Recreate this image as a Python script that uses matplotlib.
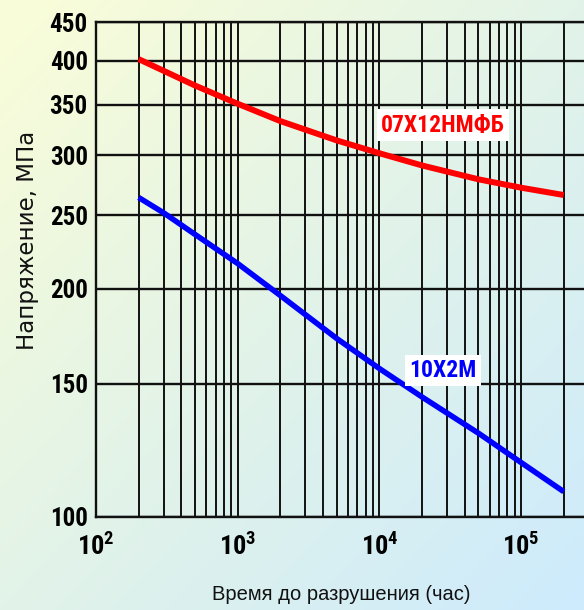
import numpy as np
import matplotlib
matplotlib.use("Agg")
import matplotlib.pyplot as plt
from matplotlib.ticker import FixedLocator, LogLocator, FuncFormatter, NullFormatter, NullLocator
from matplotlib.colors import LinearSegmentedColormap

# time to rupture, h
hours = [200, 300, 500, 1e3, 2e3, 5e3, 1e4, 2e4, 5e4, 1e5, 2e5]
# stress, MPa
stress_07 = [402, 388, 371, 351, 333, 314, 302, 291, 279, 272, 266]
stress_10 = [264, 252, 236, 216, 196, 172, 157, 144, 129, 118, 108]

y_ticks = [100, 150, 200, 250, 300, 350, 400, 450]
x_ticks = [1e2, 1e3, 1e4, 1e5]

label_07 = "07Х12НМФБ"
label_10 = "10Х2М"
y_title = "Напряжение, МПа"
x_title = "Время до разрушения (час)"

narrow = ["Roboto Condensed", "DejaVu Sans"]
plt.rcParams["mathtext.fontset"] = "custom"
plt.rcParams["mathtext.rm"] = "Roboto Condensed:bold"
plt.rcParams["mathtext.it"] = "Roboto Condensed:bold"
plt.rcParams["mathtext.bf"] = "Roboto Condensed:bold"

fig = plt.figure(figsize=(5.84, 6.10), dpi=100)

# background gradient
bg = fig.add_axes([0, 0, 1, 1], zorder=-10)
gx, gy = np.meshgrid(np.linspace(0, 1, 200), np.linspace(0, 1, 200))
grad = (gx + gy) / 2
cmap = LinearSegmentedColormap.from_list("bg", ["#FAFDD8", "#E2F3E8", "#CDEBFD"])
bg.imshow(grad, cmap=cmap, aspect="auto", extent=[0, 1, 0, 1], origin="upper")
bg.axis("off")

ax = fig.add_axes([96 / 584, 93 / 610, 1 - 96 / 584, 495 / 610])
ax.patch.set_alpha(0)
ax.set_xscale("log")
ax.set_yscale("log")
ax.set_xlim(100, 10 ** (2 + 488 / 141.7))
ax.set_ylim(100, 450)

ax.plot(hours, stress_07, color="#FF0000", lw=4.3, solid_capstyle="butt", zorder=3)
ax.plot(hours, stress_10, color="#0000FF", lw=4.0, solid_capstyle="butt", zorder=3)

ax.xaxis.set_major_locator(FixedLocator(x_ticks))
ax.xaxis.set_minor_locator(LogLocator(base=10, subs=np.arange(2, 10)))
ax.xaxis.set_major_formatter(FuncFormatter(lambda v, p: r"$10^{%d}$" % round(np.log10(v))))
ax.xaxis.set_minor_formatter(NullFormatter())
ax.yaxis.set_major_locator(FixedLocator(y_ticks))
ax.yaxis.set_minor_locator(NullLocator())
ax.yaxis.set_major_formatter(FuncFormatter(lambda v, p: "%d" % v))

ax.grid(True, which="major", axis="y", color="#111111", lw=1.7)
ax.grid(True, which="both", axis="x", color="#111111", lw=1.4)
ax.tick_params(which="both", length=0)
ax.tick_params(axis="y", pad=6)
ax.tick_params(axis="x", pad=12, labelsize=19)
for lab in ax.get_yticklabels():
    lab.set_fontfamily(narrow)
    lab.set_fontweight("bold")
    lab.set_fontsize(18)

for side in ["left", "bottom", "top"]:
    ax.spines[side].set_color("#111111")
    ax.spines[side].set_linewidth(1.7)
ax.spines["right"].set_visible(False)

ax.text(2.81e4, 329, label_07, color="#FF0000", fontsize=17, fontweight="bold",
        family=narrow, ha="center", va="center", zorder=4,
        bbox=dict(facecolor="white", edgecolor="none", pad=3))
ax.text(2.81e4, 156, label_10, color="#0000FF", fontsize=17, fontweight="bold",
        family=narrow, ha="center", va="center", zorder=4,
        bbox=dict(facecolor="white", edgecolor="none", pad=3))

fig.text(28 / 584, 1 - 240 / 610, y_title, rotation=90, ha="center", va="center",
         fontsize=16.5, family=["DejaVu Sans"], color="#111111")
fig.text(341 / 584, 1 - 594 / 610, x_title, ha="center", va="center",
         fontsize=14.5, family=["Liberation Sans", "DejaVu Sans"], color="#111111")

fig.savefig("out.png", dpi=100)
